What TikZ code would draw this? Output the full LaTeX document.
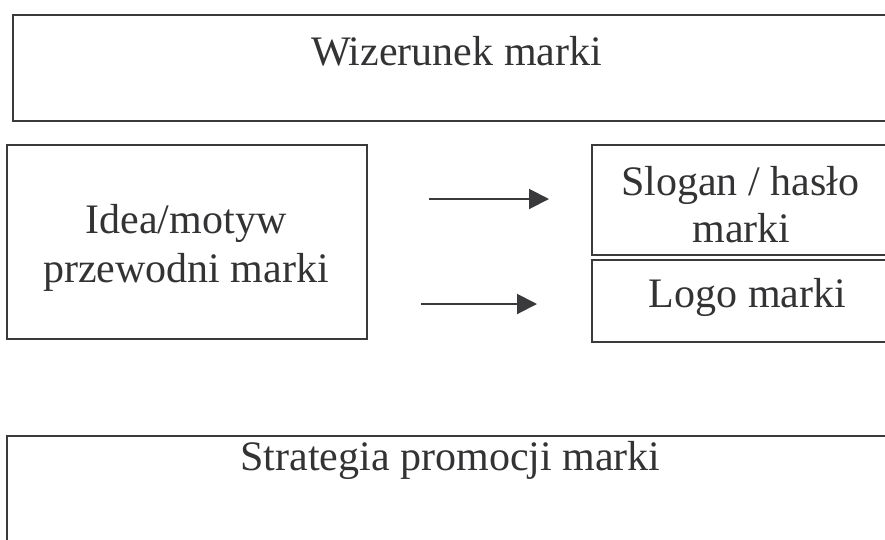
\documentclass[tikz,border=0pt]{standalone}
\usepackage{fontspec}
\setmainfont{Liberation Serif}
\usetikzlibrary{arrows.meta}
\definecolor{ink}{HTML}{3A3A3C}
\definecolor{txt}{HTML}{333335}
\tikzset{
  box/.style={draw=ink, line width=2pt, rectangle, inner sep=0pt},
  lbl/.style={anchor=base, inner sep=0pt, text=txt, font=\fontsize{42}{47}\selectfont},
  arr/.style={draw=ink, line width=2pt, -{Triangle[length=20pt,width=20pt]}}
}
\begin{document}
\begin{tikzpicture}[x=1pt,y=-1pt]
\useasboundingbox (0,0) rectangle (885,539);
\clip (0,0) rectangle (885,539);
% boxes
\node[box, minimum width=887pt, minimum height=106pt] (wiz) at (456.5,68) {};
\node[box, minimum width=360pt, minimum height=194pt] (idea) at (187,242) {};
\node[box, minimum width=306pt, minimum height=110pt] (slogan) at (745,200) {};
\node[box, minimum width=306pt, minimum height=82pt] (logo) at (745,301) {};
\node[box, minimum width=886pt, minimum height=164pt] (strat) at (450,518) {};
% texts
\node[lbl] (twiz) at (456.5,65) {Wizerunek marki};
\node[lbl] (tidea1) at (186,233) {Idea/motyw};
\node[lbl] (tidea2) at (186,282) {przewodni marki};
\node[lbl] (tslog1) at (740,195) {Slogan / hasło};
\node[lbl] (tslog2) at (741.5,242) {marki};
\node[lbl] (tlogo) at (747.5,307) {Logo marki};
\node[lbl] (tstrat) at (450.5,470) {Strategia promocji marki};
% arrows
\coordinate (a1s) at (429,199);
\coordinate (a1e) at (549,199);
\coordinate (a2s) at (421,304);
\coordinate (a2e) at (537,304);
\draw[arr] (a1s) -- (a1e);
\draw[arr] (a2s) -- (a2e);
\end{tikzpicture}
\end{document}
